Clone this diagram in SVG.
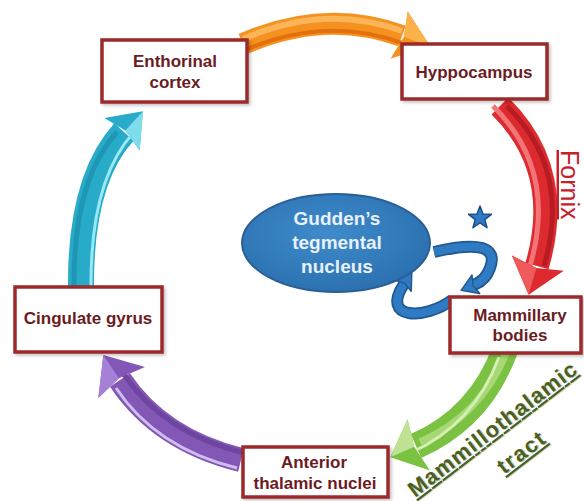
<svg xmlns="http://www.w3.org/2000/svg" width="584" height="501" viewBox="0 0 584 501">
<defs>
<style>
.box{fill:#ffffff;stroke:#9c2a2c;stroke-width:3.5;filter:url(#sh)}
.lbl{font-family:"Liberation Sans",Arial,sans-serif;font-weight:bold;font-size:17px;fill:#6a1c1f;text-anchor:middle}
.ell{font-family:"Liberation Sans",Arial,sans-serif;font-weight:bold;font-size:19px;fill:#e8f1fa;text-anchor:middle}
.body{fill:none;stroke-linecap:butt}
.hl{fill:none;stroke-linecap:butt}
.mk{fill:none;stroke:none}
.tract{font-family:"Liberation Sans",Arial,sans-serif;font-weight:bold;font-size:22px;text-decoration:underline}
</style>
<filter id="sh" x="-10%" y="-10%" width="130%" height="140%">
<feDropShadow dx="2" dy="2" stdDeviation="1.5" flood-color="#000" flood-opacity="0.22"/>
</filter>
<radialGradient id="gEll" cx="0.45" cy="0.4" r="0.65">
<stop offset="0" stop-color="#3f8bcc"/>
<stop offset="1" stop-color="#2a6fae"/>
</radialGradient>
<marker id="hOrange" markerUnits="userSpaceOnUse" orient="auto" refX="0" refY="0" markerWidth="40" markerHeight="60" style="overflow:visible">
<path d="M-3,-25 L30,0 L-3,25 L2,0 Z" fill="#f5921f"/>
<path d="M-3,-25 L30,0 L2,0 Z" fill="#fbb24a"/>
</marker>
<marker id="hRed" markerUnits="userSpaceOnUse" orient="auto" refX="0" refY="0" markerWidth="40" markerHeight="60" style="overflow:visible">
<path d="M-3,-27 L30,0 L-3,27 L2,0 Z" fill="#dc2a2f"/>
<path d="M-3,27 L30,0 L2,0 Z" fill="#ef5a5c"/>
</marker>
<marker id="hGreen" markerUnits="userSpaceOnUse" orient="auto" refX="0" refY="0" markerWidth="40" markerHeight="60" style="overflow:visible">
<path d="M-3,-28 L28,0 L-3,28 L2,0 Z" fill="#7cc242"/>
<path d="M-3,28 L28,0 L2,0 Z" fill="#bfe392"/>
</marker>
<marker id="hPurple" markerUnits="userSpaceOnUse" orient="auto" refX="0" refY="0" markerWidth="40" markerHeight="60" style="overflow:visible">
<path d="M-3,-28 L30,0 L-3,28 L2,0 Z" fill="#8257b6"/>
<path d="M-3,-28 L30,0 L2,0 Z" fill="#a680d6"/>
</marker>
<marker id="hCyan" markerUnits="userSpaceOnUse" orient="auto" refX="0" refY="0" markerWidth="40" markerHeight="60" style="overflow:visible">
<path d="M-3,-24 L28,0 L-3,24 L2,0 Z" fill="#27abc8"/>
<path d="M-3,24 L28,0 L2,0 Z" fill="#7fdcec"/>
</marker>
<marker id="hBlue" markerUnits="userSpaceOnUse" orient="auto" refX="0" refY="0" markerWidth="20" markerHeight="30" style="overflow:visible">
<path d="M-2,-10 L14,0 L-2,10 L1,0 Z" fill="#2e7bc4" stroke="#22588f" stroke-width="1.5" stroke-linejoin="round"/>
</marker>
</defs>

<rect width="584" height="501" fill="#ffffff"/>

<g id="connectors">
<g id="arrow-orange">
<path class="body" d="M243 44 Q325 8 402 36" stroke="#f5921f" stroke-width="22"/>
<path class="hl" d="M243 44 Q325 8 402 36" stroke="#fcb458" stroke-width="6" transform="translate(0,-5)"/>
<path class="hl" d="M243 44 Q325 8 402 36" stroke="#e2700d" stroke-width="4" transform="translate(0,7)"/>
<path class="mk" d="M243 44 Q325 8 402 36" marker-end="url(#hOrange)"/>
</g>
<g id="arrow-red">
<path class="body" d="M500 106 Q565 170 537 266" stroke="#dc2a2f" stroke-width="24"/>
<path class="hl" d="M500 106 Q565 170 537 266" stroke="#f27476" stroke-width="5" transform="translate(-7,0)"/>
<path class="hl" d="M500 106 Q565 170 537 266" stroke="#b71c24" stroke-width="5" transform="translate(7,0)"/>
<path class="mk" d="M500 106 Q565 170 537 266" marker-end="url(#hRed)"/>
</g>
<g id="arrow-green">
<path class="body" d="M505 350 Q480 418 416 446" stroke="#7cc242" stroke-width="26"/>
<path class="hl" d="M505 350 Q480 418 416 446" stroke="#a8d874" stroke-width="7" transform="translate(4,-4)"/>
<path class="hl" d="M505 350 Q480 418 416 446" stroke="#d4efb4" stroke-width="3" transform="translate(-6,7)"/>
<path class="mk" d="M505 350 Q480 418 416 446" marker-end="url(#hGreen)"/>
</g>
<g id="arrow-purple">
<path class="body" d="M241 460 Q160 440 120 380" stroke="#8257b6" stroke-width="24"/>
<path class="hl" d="M241 460 Q160 440 120 380" stroke="#6e46a2" stroke-width="5" transform="translate(3,-7)"/>
<path class="hl" d="M241 460 Q160 440 120 380" stroke="#d2bdf0" stroke-width="3" transform="translate(-4,8)"/>
<path class="mk" d="M241 460 Q160 440 120 380" marker-end="url(#hPurple)"/>
</g>
<g id="arrow-cyan">
<path class="body" d="M81 288 Q80 180 124 132" stroke="#27abc8" stroke-width="26"/>
<path class="hl" d="M81 288 Q80 180 124 132" stroke="#1f97b4" stroke-width="5" transform="translate(-7,0)"/>
<path class="hl" d="M81 288 Q80 180 124 132" stroke="#9ae8f4" stroke-width="3" transform="translate(10,0)"/>
<path class="mk" d="M81 288 Q80 180 124 132" marker-end="url(#hCyan)"/>
</g>
<g id="loop-blue">
<path d="M434 252 Q502 236 490 268 Q486 280 474 285" fill="none" stroke="#22588f" stroke-width="12"/>
<path d="M434 252 Q502 236 490 268 Q486 280 474 285" fill="none" stroke="#2e7bc4" stroke-width="8.5" marker-end="url(#hBlue)"/>
<path d="M452 300 C425 320 380 320 404 284" fill="none" stroke="#22588f" stroke-width="12"/>
<path d="M452 300 C425 320 380 320 404 284" fill="none" stroke="#2e7bc4" stroke-width="8.5" marker-end="url(#hBlue)"/>
</g>
<text x="561" y="150" transform="rotate(90 561 150)" font-family="'Liberation Sans',Arial,sans-serif" font-size="25" fill="#c8202a" text-decoration="underline">Fornix</text>
<g id="label-mtt" transform="rotate(-37.5 415 498)">
<text class="tract" x="416" y="499" fill="#c9d3b6" textLength="206" lengthAdjust="spacing">Mammillothalamic</text>
<text class="tract" x="415" y="498" fill="#4b5f24" textLength="206" lengthAdjust="spacing">Mammillothalamic</text>
</g>
<g id="label-tract" transform="rotate(-37.5 526 458)">
<text class="tract" x="527" y="459" fill="#c9d3b6" text-anchor="middle" letter-spacing="1.5">tract</text>
<text class="tract" x="526" y="458" fill="#4b5f24" text-anchor="middle" letter-spacing="1.5">tract</text>
</g>
</g>

<g id="enthorinal">
<rect class="box" x="102" y="40" width="145" height="62"/>
<text class="lbl" x="175" y="67">Enthorinal</text>
<text class="lbl" x="175" y="88">cortex</text>
</g>
<g id="hyppocampus">
<rect class="box" x="402" y="44" width="145" height="55"/>
<text class="lbl" x="474" y="78">Hyppocampus</text>
</g>
<g id="mammillary">
<rect class="box" x="450" y="297" width="131" height="56"/>
<text class="lbl" x="520" y="321">Mammillary</text>
<text class="lbl" x="520" y="341">bodies</text>
</g>
<g id="anterior">
<rect class="box" x="243" y="447" width="145" height="50"/>
<text class="lbl" x="314" y="468">Anterior</text>
<text class="lbl" x="315" y="489">thalamic nuclei</text>
</g>
<g id="cingulate">
<rect class="box" x="15" y="287" width="147" height="65"/>
<text class="lbl" x="88" y="324">Cingulate gyrus</text>
</g>
<g id="gudden">
<ellipse cx="336" cy="243" rx="94" ry="49" fill="url(#gEll)" stroke="#2a5f95" stroke-width="2"/>
<text class="ell" x="337" y="225">Gudden’s</text>
<text class="ell" x="337" y="249">tegmental</text>
<text class="ell" x="337" y="273">nucleus</text>
</g>
<g id="star">
<polygon points="480,206 482.94,213.95 491.41,214.29 484.76,219.55 487.05,227.71 480,223 472.95,227.71 475.24,219.55 468.59,214.29 477.06,213.95" fill="#2e7bc4" stroke="#1f4f82" stroke-width="1.5" stroke-linejoin="round"/>
</g>
</svg>
